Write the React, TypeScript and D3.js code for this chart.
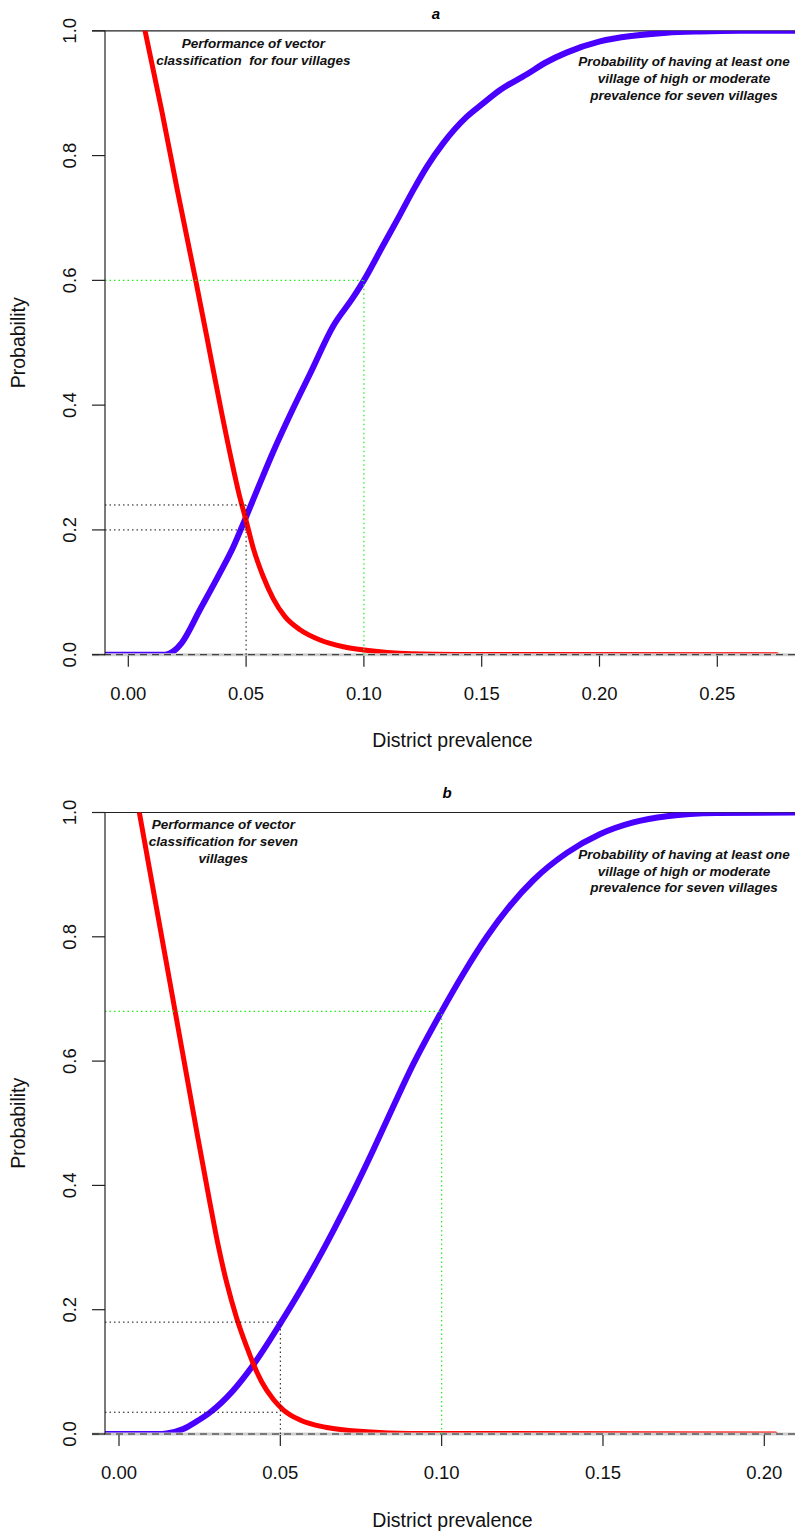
import React from 'react';
import * as d3 from 'd3';

// ---------- data: panel a ----------
const prevRedA = [0.0071, 0.0142, 0.0208, 0.0286, 0.0333, 0.0395, 0.044, 0.0471, 0.05, 0.0531, 0.0573, 0.0615, 0.0665, 0.0729, 0.0814, 0.0913, 0.1, 0.11, 0.12, 0.14, 0.2752];
const probRedA = [1.0, 0.872, 0.745, 0.6, 0.51, 0.39, 0.308, 0.256, 0.215, 0.17, 0.125, 0.09, 0.061, 0.04, 0.0236, 0.0128, 0.0075, 0.0035, 0.0015, 0.0004, 0];

const prevBlueA = [-0.01, 0.0156, 0.019, 0.0227, 0.0304, 0.0389, 0.0446, 0.05, 0.0559, 0.0616, 0.07, 0.0771, 0.087, 0.0955, 0.1, 0.108, 0.1153, 0.121, 0.1267, 0.1337, 0.1436, 0.1507, 0.1578, 0.169, 0.1776, 0.186, 0.2002, 0.2144, 0.2285, 0.2427, 0.26, 0.29];
const probBlueA = [0, 0, 0.005, 0.019, 0.072, 0.131, 0.173, 0.221, 0.275, 0.326, 0.395, 0.45, 0.527, 0.573, 0.6, 0.655, 0.705, 0.745, 0.782, 0.82, 0.862, 0.884, 0.905, 0.93, 0.95, 0.965, 0.983, 0.992, 0.997, 0.999, 1.0, 1.0];

// ---------- data: panel b ----------
const prevRedB = [0.0063, 0.0105, 0.014, 0.0174, 0.021, 0.0245, 0.028, 0.0308, 0.0334, 0.0365, 0.0396, 0.0416, 0.0442, 0.0478, 0.0509, 0.0561, 0.0644, 0.0768, 0.09, 0.2034];
const probRedB = [1.0, 0.879, 0.778, 0.68, 0.576, 0.475, 0.377, 0.302, 0.243, 0.186, 0.14, 0.113, 0.084, 0.056, 0.039, 0.0225, 0.0105, 0.0037, 0.001, 0];

const prevBlueB = [-0.0045, 0.012, 0.0148, 0.0199, 0.024, 0.0283, 0.0354, 0.0416, 0.05, 0.0561, 0.0623, 0.0664, 0.0726, 0.0788, 0.085, 0.0912, 0.1, 0.107, 0.114, 0.1212, 0.1284, 0.1388, 0.149, 0.1594, 0.1698, 0.1853, 0.21];
const probBlueB = [0, 0, 0.001, 0.008, 0.02, 0.035, 0.07, 0.111, 0.178, 0.23, 0.287, 0.327, 0.39, 0.457, 0.527, 0.595, 0.68, 0.743, 0.8, 0.85, 0.891, 0.935, 0.965, 0.984, 0.994, 0.999, 1.0];

// ---------- reference lines ----------
const blackLevelsA = [0.24, 0.2];
const blackCutA = 0.05;
const greenLevelA = 0.6;
const greenCutA = 0.1;

const blackLevelsB = [0.18, 0.035];
const blackCutB = 0.05;
const greenLevelB = 0.68;
const greenCutB = 0.1;

// ---------- ticks & labels ----------
const xTicksA = [0, 0.05, 0.1, 0.15, 0.2, 0.25];
const xTicksB = [0, 0.05, 0.1, 0.15, 0.2];
const yTicks = [0, 0.2, 0.4, 0.6, 0.8, 1.0];

const notesLeftA = ['Performance of vector', 'classification  for four villages'];
const notesRightA = ['Probability of having at least one', 'village of high or moderate', 'prevalence for seven villages'];
const notesLeftB = ['Performance of vector', 'classification for seven', 'villages'];
const notesRightB = ['Probability of having at least one', 'village of high or moderate', 'prevalence for seven villages'];

const FONT = '"Liberation Sans", Arial, Helvetica, sans-serif';
const RED = '#ff0000';
const BLUE = '#4a00ff';
const GREEN = '#1ef01e';

type PanelProps = {
  id: string;
  title: string;
  titleX: number;
  titleY: number;
  xDomain: [number, number];
  xRange: [number, number];
  yRange: [number, number];
  xTicks: number[];
  redX: number[];
  redY: number[];
  blueX: number[];
  blueY: number[];
  blackLevels: number[];
  blackCut: number;
  greenLevel: number;
  greenCut: number;
  notesLeft: string[];
  notesLeftX: number;
  notesLeftY: number;
  notesRight: string[];
  notesRightX: number;
  notesRightY: number;
  noteGap: number;
};

function Panel(p: PanelProps) {
  const x = d3.scaleLinear().domain(p.xDomain).range(p.xRange);
  const y = d3.scaleLinear().domain([0, 1]).range(p.yRange);
  const left = 105;
  const right = 801;
  const tickLeft = 92;
  const y0 = y(0);
  const y1 = y(1);

  const line = d3
    .line<[number, number]>()
    .x((d) => x(d[0]))
    .y((d) => y(d[1]))
    .curve(d3.curveMonotoneX);

  const red = line(p.redX.map((v, i) => [v, p.redY[i]] as [number, number])) || '';
  const blue = line(p.blueX.map((v, i) => [v, p.blueY[i]] as [number, number])) || '';

  const clipId = `clip-${p.id}`;
  const plotCx = (left + right) / 2;

  return (
    <g>
      <defs>
        <clipPath id={clipId}>
          <rect x={left} y={y1} width={right - left} height={y0 - y1 + 0.5} />
        </clipPath>
      </defs>

      {/* title */}
      <text x={p.titleX} y={p.titleY} fontFamily={FONT} fontSize={15} fontWeight="bold" fontStyle="italic" textAnchor="middle">
        {p.title}
      </text>

      {/* top reference line at probability 1 */}
      <line x1={tickLeft} x2={795} y1={y1} y2={y1} stroke="#222" strokeWidth={1.2} />

      {/* curves */}
      <g clipPath={`url(#${clipId})`}>
        <path d={blue} fill="none" stroke={BLUE} strokeWidth={6} strokeLinejoin="round" strokeLinecap="round" />
        <path d={red} fill="none" stroke={RED} strokeWidth={5} strokeLinejoin="round" strokeLinecap="round" />
      </g>

      {/* zero line */}
      <line x1={tickLeft} x2={795} y1={y0} y2={y0} stroke="#cfcfcf" strokeWidth={3} />
      <line x1={tickLeft} x2={795} y1={y0} y2={y0} stroke="#222" strokeWidth={1} strokeDasharray="7,5" />

      {/* black guide lines */}
      {p.blackLevels.map((lv) => (
        <line key={`bh${lv}`} x1={left} x2={x(p.blackCut)} y1={y(lv)} y2={y(lv)} stroke="#111" strokeWidth={1} strokeDasharray="1.5,3" />
      ))}
      <line x1={x(p.blackCut)} x2={x(p.blackCut)} y1={y0} y2={y(d3.max(p.blackLevels) as number)} stroke="#111" strokeWidth={1} strokeDasharray="1.5,3" />

      {/* green guide lines */}
      <line x1={left} x2={x(p.greenCut)} y1={y(p.greenLevel)} y2={y(p.greenLevel)} stroke={GREEN} strokeWidth={1.2} strokeDasharray="1.5,3" />
      <line x1={x(p.greenCut)} x2={x(p.greenCut)} y1={y0} y2={y(p.greenLevel)} stroke={GREEN} strokeWidth={1.2} strokeDasharray="1.5,3" />

      {/* y axis */}
      <line x1={left} x2={left} y1={y1} y2={y0} stroke="#222" strokeWidth={1.2} />
      {yTicks.map((t) => (
        <g key={`yt${t}`}>
          <line x1={tickLeft} x2={left} y1={y(t)} y2={y(t)} stroke="#222" strokeWidth={1.2} />
          <text
            transform={`translate(76, ${y(t)}) rotate(-90)`}
            fontFamily={FONT}
            fontSize={18.5}
            textAnchor="middle"
            fill="#111"
          >
            {t.toFixed(1)}
          </text>
        </g>
      ))}
      <text transform={`translate(25, ${(y0 + y1) / 2}) rotate(-90)`} fontFamily={FONT} fontSize={19.5} textAnchor="middle" fill="#111">
        Probability
      </text>

      {/* x axis ticks */}
      {p.xTicks.map((t) => (
        <g key={`xt${t}`}>
          <line x1={x(t)} x2={x(t)} y1={y0 + 1} y2={y0 + 12} stroke="#222" strokeWidth={1.2} />
          <text x={x(t)} y={y0 + 45.3} fontFamily={FONT} fontSize={18.5} textAnchor="middle" fill="#111">
            {t.toFixed(2)}
          </text>
        </g>
      ))}
      <text x={plotCx - 0.5} y={y0 + 92.5} fontFamily={FONT} fontSize={19.5} textAnchor="middle" fill="#111">
        District prevalence
      </text>

      {/* annotations */}
      {p.notesLeft.map((s, i) => (
        <text key={`nl${i}`} x={p.notesLeftX} y={p.notesLeftY + i * p.noteGap} fontFamily={FONT} fontSize={13.5} fontWeight="bold" fontStyle="italic" textAnchor="middle" style={{ whiteSpace: 'pre' }} fill="#111">
          {s}
        </text>
      ))}
      {p.notesRight.map((s, i) => (
        <text key={`nr${i}`} x={p.notesRightX} y={p.notesRightY + i * p.noteGap} fontFamily={FONT} fontSize={13.5} fontWeight="bold" fontStyle="italic" textAnchor="middle" style={{ whiteSpace: 'pre' }} fill="#111">
          {s}
        </text>
      ))}
    </g>
  );
}

export default function App() {
  return (
    <svg
      width={795}
      height={1531}
      viewBox="0 0 795 1531"
      style={{ position: 'absolute', left: 0, top: 0, display: 'block', background: '#fff' }}
    >
      <rect width={795} height={1531} fill="#fff" />
      <Panel
        id="a"
        title="a"
        titleX={436}
        titleY={18.5}
        xDomain={[0, 0.25]}
        xRange={[128.3, 717.3]}
        yRange={[654.7, 30.8]}
        xTicks={xTicksA}
        redX={prevRedA}
        redY={probRedA}
        blueX={prevBlueA}
        blueY={probBlueA}
        blackLevels={blackLevelsA}
        blackCut={blackCutA}
        greenLevel={greenLevelA}
        greenCut={greenCutA}
        notesLeft={notesLeftA}
        notesLeftX={253.3}
        notesLeftY={48.3}
        notesRight={notesRightA}
        notesRightX={684}
        notesRightY={66}
        noteGap={17}
      />
      <Panel
        id="b"
        title="b"
        titleX={447}
        titleY={798}
        xDomain={[0, 0.2]}
        xRange={[119, 764.3]}
        yRange={[1434, 812.5]}
        xTicks={xTicksB}
        redX={prevRedB}
        redY={probRedB}
        blueX={prevBlueB}
        blueY={probBlueB}
        blackLevels={blackLevelsB}
        blackCut={blackCutB}
        greenLevel={greenLevelB}
        greenCut={greenCutB}
        notesLeft={notesLeftB}
        notesLeftX={223.3}
        notesLeftY={829.3}
        notesRight={notesRightB}
        notesRightX={684}
        notesRightY={859}
        noteGap={16.6}
      />
    </svg>
  );
}
